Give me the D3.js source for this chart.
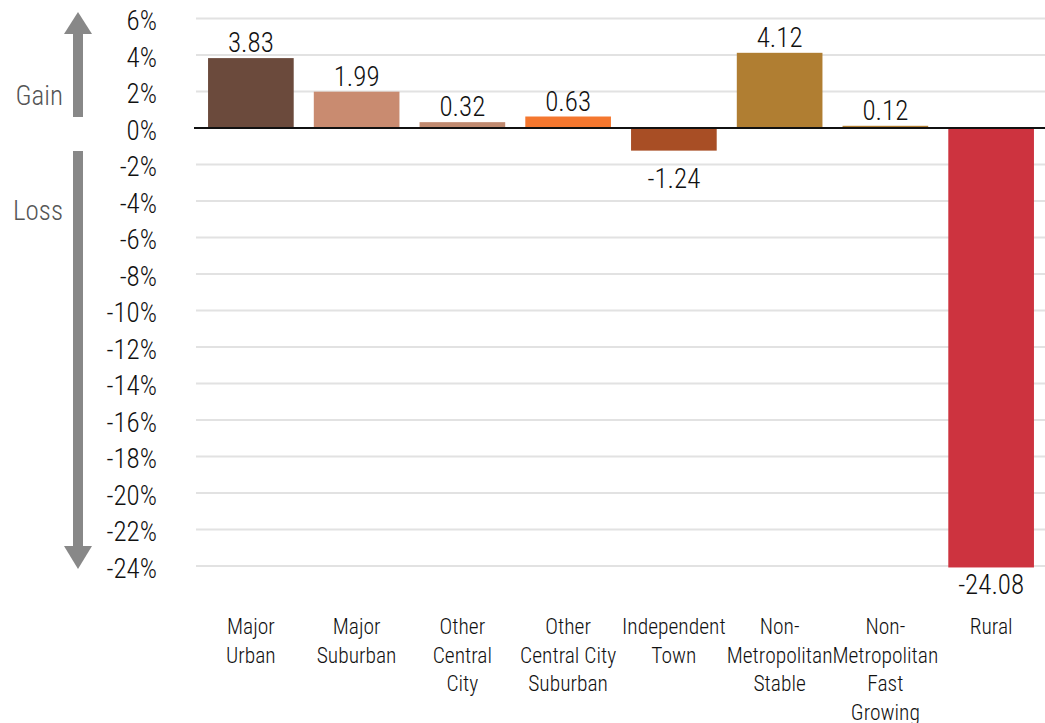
<!DOCTYPE html>
<html>
<head>
<meta charset="utf-8">
<script src="https://cdn.jsdelivr.net/npm/d3@7"></script>
<style>
  body { margin: 0; background: #ffffff; }
  svg { display: block; }
  text { font-weight: 350; }
</style>
</head>
<body>
<div id="chart"></div>
<script>
// Data
const categories = [
  ["Major", "Urban"],
  ["Major", "Suburban"],
  ["Other", "Central", "City"],
  ["Other", "Central City", "Suburban"],
  ["Independent", "Town"],
  ["Non-", "Metropolitan", "Stable"],
  ["Non-", "Metropolitan", "Fast", "Growing"],
  ["Rural"]
];
const values = [3.83, 1.99, 0.32, 0.63, -1.24, 4.12, 0.12, -24.08];
const barColors = ["#6b4a3c", "#c98b70", "#c08a70", "#f4772f", "#a84e25", "#b07e32", "#b07e32", "#cd333f"];
const yTicks = [6, 4, 2, 0, -2, -4, -6, -8, -10, -12, -14, -16, -18, -20, -22, -24];

const width = 1045;
const height = 723;
const margin = { top: 18, right: 0, bottom: 157, left: 196 };
const font = "'Roboto Condensed', 'Liberation Sans Narrow', 'DejaVu Sans Condensed', Roboto, sans-serif";

const svg = d3.select("#chart")
  .append("svg")
  .attr("width", width)
  .attr("height", height);

const x = d3.scaleBand()
  .domain(d3.range(categories.length))
  .range([margin.left + 2, width - 1])
  .paddingInner(0.19)
  .paddingOuter(0.095);

const y = d3.scaleLinear()
  .domain([-24, 6])
  .range([566, 18.5]);

// Grid lines
svg.append("g")
  .selectAll("line")
  .data(yTicks.filter(d => d !== 0))
  .join("line")
  .attr("x1", margin.left)
  .attr("x2", width)
  .attr("y1", d => y(d))
  .attr("y2", d => y(d))
  .attr("stroke", "#e2e2e2")
  .attr("stroke-width", 2);

// Y axis labels
svg.append("g")
  .selectAll("text")
  .data(yTicks)
  .join("text")
  .attr("x", 157)
  .attr("y", d => y(d) + 2)
  .attr("dy", "0.36em")
  .attr("text-anchor", "end")
  .style("font-family", font)
  .style("font-size", "27px")
  .attr("fill", "#111")
  .text(d => d + "%");

// Bars
svg.append("g")
  .selectAll("rect")
  .data(values)
  .join("rect")
  .attr("x", (d, i) => x(i))
  .attr("width", x.bandwidth())
  .attr("y", d => y(Math.max(0, d)))
  .attr("height", d => Math.abs(y(d) - y(0)))
  .attr("fill", (d, i) => barColors[i]);

// Zero line
svg.append("line")
  .attr("x1", margin.left - 2)
  .attr("x2", width)
  .attr("y1", y(0))
  .attr("y2", y(0))
  .attr("stroke", "#111")
  .attr("stroke-width", 2);

// Value labels
svg.append("g")
  .selectAll("text")
  .data(values)
  .join("text")
  .attr("x", (d, i) => x(i) + x.bandwidth() / 2)
  .attr("y", d => d >= 0 ? y(d) - 6 : Math.min(y(d) + 37, 594))
  .attr("text-anchor", "middle")
  .style("font-family", font)
  .style("font-size", "27px")
  .attr("fill", "#111")
  .text(d => d.toFixed(2));

// Category labels
const catG = svg.append("g");
categories.forEach((lines, i) => {
  const t = catG.append("text")
    .attr("x", x(i) + x.bandwidth() / 2)
    .attr("y", 634)
    .attr("text-anchor", "middle")
    .style("font-family", font)
    .style("font-size", "21.5px")
    .attr("fill", "#111");
  lines.forEach((ln, j) => {
    t.append("tspan")
      .attr("x", x(i) + x.bandwidth() / 2)
      .attr("dy", j === 0 ? 0 : 28.5)
      .text(ln);
  });
});

// Gain / Loss arrows
const arrowColor = "#888888";
const ax = 78;
svg.append("rect")
  .attr("x", ax - 5).attr("y", 30)
  .attr("width", 10).attr("height", y(0) - 11 - 30)
  .attr("fill", arrowColor);
svg.append("path")
  .attr("d", `M${ax - 14},34 L${ax},12 L${ax + 14},34 Z`)
  .attr("fill", arrowColor);

svg.append("rect")
  .attr("x", ax - 5).attr("y", y(0) + 23)
  .attr("width", 10).attr("height", 549 - (y(0) + 23))
  .attr("fill", arrowColor);
svg.append("path")
  .attr("d", `M${ax - 14},546 L${ax},569 L${ax + 14},546 Z`)
  .attr("fill", arrowColor);

svg.append("text")
  .attr("x", 63).attr("y", 95).attr("dy", "0.36em")
  .attr("text-anchor", "end")
  .style("font-family", font)
  .style("font-size", "27px")
  .attr("fill", "#555")
  .text("Gain");
svg.append("text")
  .attr("x", 63).attr("y", 210).attr("dy", "0.36em")
  .attr("text-anchor", "end")
  .style("font-family", font)
  .style("font-size", "27px")
  .attr("fill", "#555")
  .text("Loss");
</script>
</body>
</html>
